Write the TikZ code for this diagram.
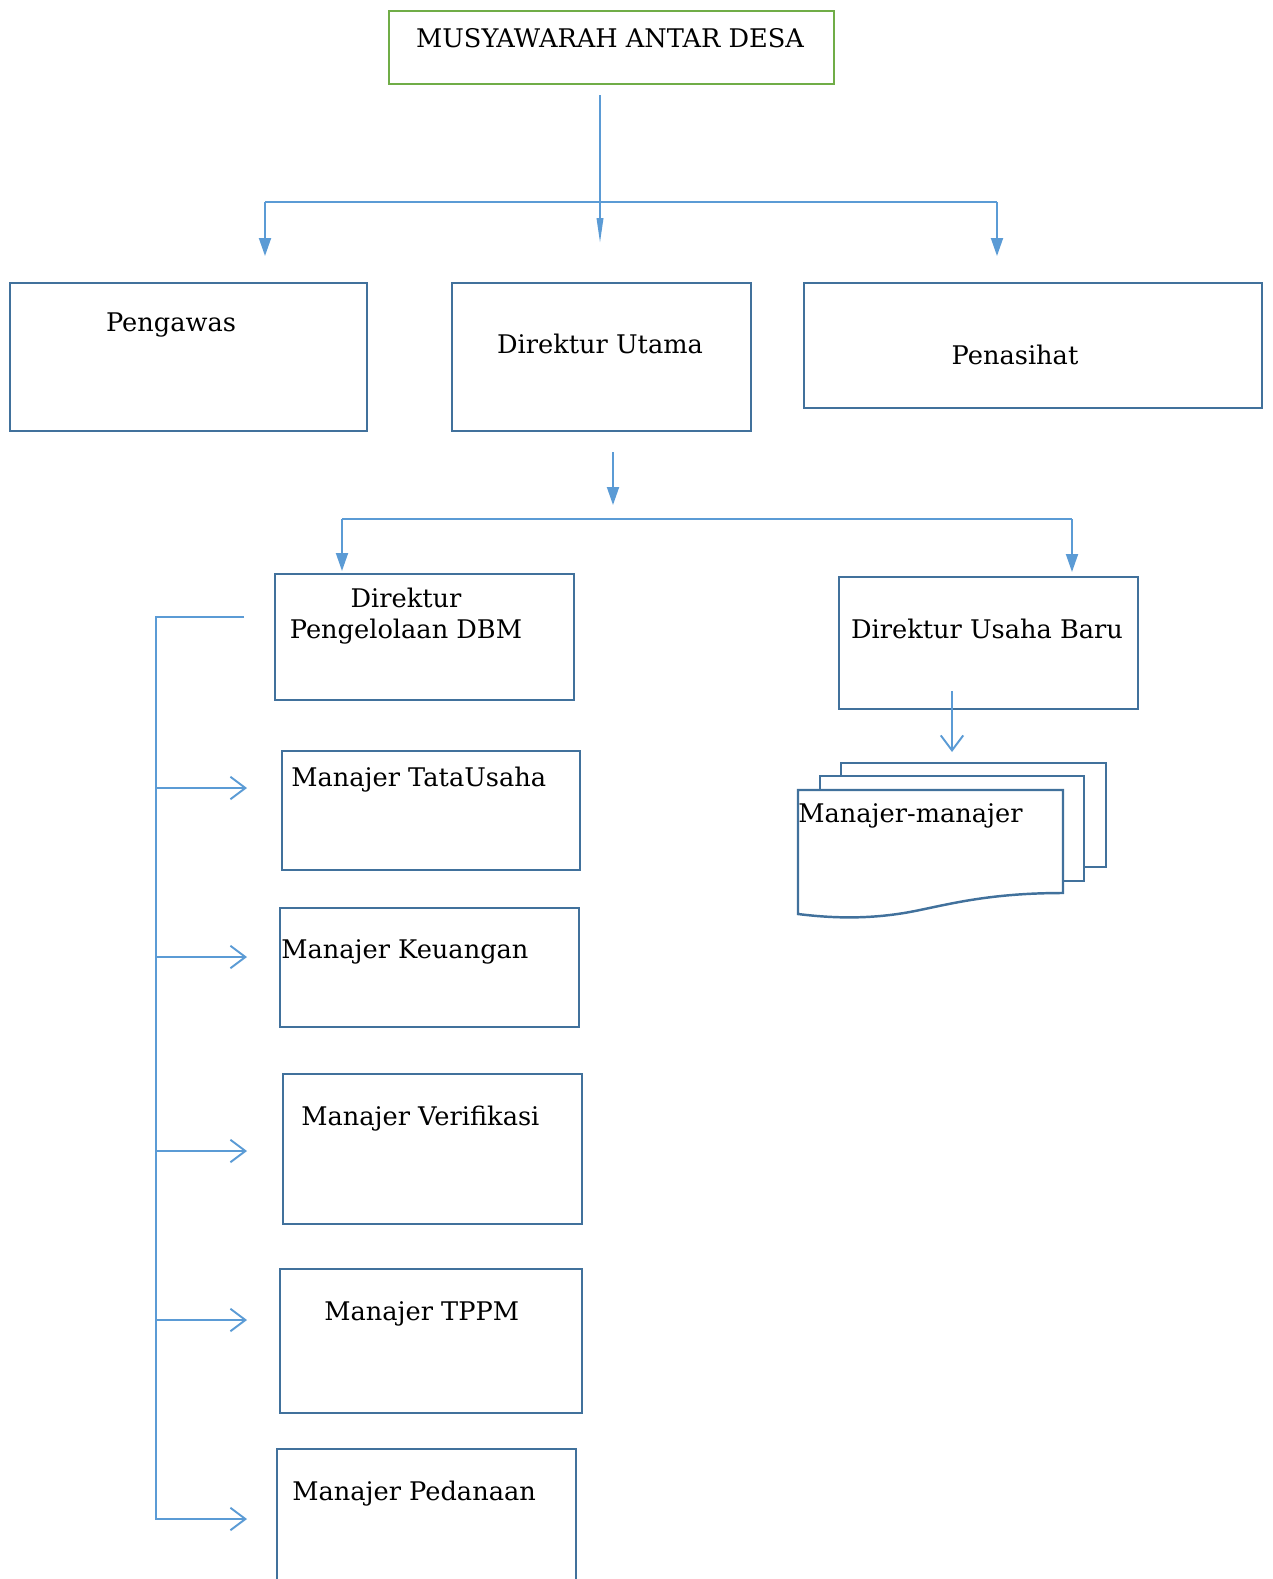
\documentclass[tikz,border=0pt]{standalone}
\usepackage{fontspec}
\setmainfont{DejaVu Serif}
\usepackage{tikz}
\usetikzlibrary{arrows.meta}
\definecolor{boxblue}{HTML}{41719C}
\definecolor{linkblue}{HTML}{5B9BD5}
\definecolor{topgreen}{HTML}{70AD47}

\begin{document}
\begin{tikzpicture}[x=0.02cm,y=-0.02cm,
        unit/.style={draw=boxblue,line width=1.4pt,anchor=north west,inner sep=0pt},
        lbl/.style={font=\fontsize{14.6}{17.5}\selectfont,inner sep=0pt},
        link/.style={draw=linkblue,line width=1.1pt},
        solid arrow/.style={link,-{Triangle[width=0.24cm,length=0.36cm]}},
        thin arrow/.style={link,-{Triangle[width=0.13cm,length=0.5cm]}},
        open arrow/.style={link,-{Straight Barb[width=0.45cm,length=0.3cm]}}]
        \useasboundingbox (0,0) rectangle (1272,1579);

        % boxes
        \node[unit,draw=topgreen,minimum width=8.9cm,minimum height=1.46cm] (musy) at (388,10) {};
        \node[unit,minimum width=7.14cm,minimum height=2.96cm] (pengawas) at (9,282) {};
        \node[unit,minimum width=5.98cm,minimum height=2.96cm] (dirut) at (451,282) {};
        \node[unit,minimum width=9.16cm,minimum height=2.5cm] (penasihat) at (803,282) {};
        \node[unit,minimum width=5.98cm,minimum height=2.52cm] (dbm) at (274,573) {};
        \node[unit,minimum width=5.98cm,minimum height=2.64cm] (usaha) at (838,576) {};
        \node[unit,minimum width=5.96cm,minimum height=2.38cm] (tata) at (281,750) {};
        \node[unit,minimum width=5.98cm,minimum height=2.38cm] (uang) at (279,907) {};
        \node[unit,minimum width=5.98cm,minimum height=3.0cm] (veri) at (282,1073) {};
        \node[unit,minimum width=6.04cm,minimum height=2.88cm] (tppm) at (279,1268) {};
        \node[unit,minimum width=5.98cm,minimum height=3.2cm] (dana) at (276,1448) {};

        % stacked sheets
        \draw[boxblue,line width=1.4pt,fill=white] (841,776) -- (841,763) -- (1106,763) -- (1106,867) -- (1084,867);
        \draw[boxblue,line width=1.4pt,fill=white] (820,790) -- (820,776) -- (1084,776) -- (1084,881) -- (1063,881);
        \draw[boxblue,line width=1.4pt,fill=white] (798,790) -- (1063,790) -- (1063,893)
            .. controls (990,893) and (950,904) .. (915,911)
            .. controls (870,920) and (830,918) .. (798,914) -- cycle;

        % texts
        \node[lbl] (musy-t) at (610,38) {MUSYAWARAH ANTAR DESA};
        \node[lbl] (pengawas-t) at (171,325) {Pengawas};
        \node[lbl] (dirut-t) at (600,344) {Direktur Utama};
        \node[lbl] (penasihat-t) at (1015,355) {Penasihat};
        \node[lbl,align=center] (dbm-t) at (406,616) {Direktur\\Pengelolaan DBM};
        \node[lbl] (usaha-t) at (987,629) {Direktur Usaha Baru};
        \node[lbl,anchor=west] (mgr-t) at (798,816) {Manajer-manajer};
        \node[lbl,anchor=west] (tata-t) at (291,780) {Manajer TataUsaha};
        \node[lbl,anchor=west] (uang-t) at (281,952) {Manajer Keuangan};
        \node[lbl,anchor=west] (veri-t) at (301,1119) {Manajer Verifikasi};
        \node[lbl,anchor=west] (tppm-t) at (324,1314) {Manajer TPPM};
        \node[lbl,anchor=west] (dana-t) at (292,1494) {Manajer Pedanaan};

        % connector points
        \coordinate (musy-out) at (600,95);
        \coordinate (dirut-in) at (600,243);
        \coordinate (bar-l) at (265,202);
        \coordinate (bar-r) at (997,202);
        \coordinate (pengawas-in) at (265,256);
        \coordinate (penasihat-in) at (997,256);
        \coordinate (dirut-out) at (613,452);
        \coordinate (dirut-tip) at (613,505);
        \coordinate (bar2-l) at (342,519);
        \coordinate (bar2-r) at (1072,519);
        \coordinate (dbm-in) at (342,571);
        \coordinate (usaha-in) at (1072,572);
        \coordinate (usaha-out) at (952,691);
        \coordinate (mgr-in) at (952,752);
        \coordinate (dbm-out) at (244,617);
        \coordinate (spine-top) at (156,617);

        % connectors
        \draw[thin arrow] (musy-out) -- (dirut-in);
        \draw[link] (bar-l) -- (bar-r);
        \draw[solid arrow] (bar-l) -- (pengawas-in);
        \draw[solid arrow] (bar-r) -- (penasihat-in);
        \draw[solid arrow] (dirut-out) -- (dirut-tip);
        \draw[link] (bar2-l) -- (bar2-r);
        \draw[solid arrow] (bar2-l) -- (dbm-in);
        \draw[solid arrow] (bar2-r) -- (usaha-in);
        \draw[open arrow] (usaha-out) -- (mgr-in);
        \draw[link] (dbm-out) -- (spine-top) -- (156,1520);
        \foreach \y/\n in {788/tata,957/uang,1151/veri,1320/tppm,1519/dana} {
            \coordinate (spine-\n) at (156,\y);
            \coordinate (tip-\n) at (247,\y);
            \draw[open arrow] (spine-\n) -- (tip-\n);
        }
\end{tikzpicture}
\end{document}
